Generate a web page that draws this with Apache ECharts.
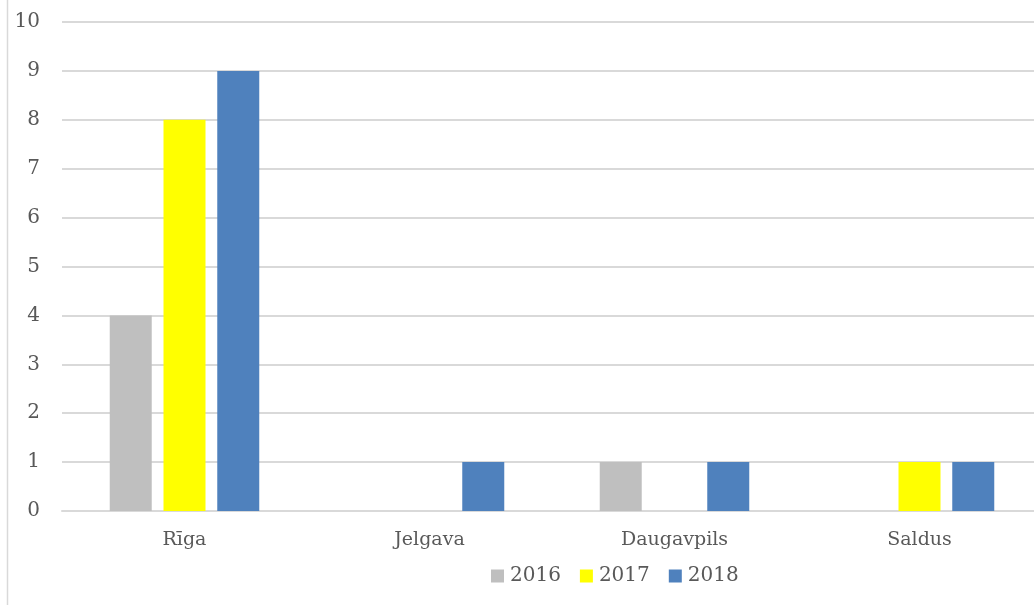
<!DOCTYPE html>
<html>
<head>
<meta charset="utf-8">
<script src="https://cdn.jsdelivr.net/npm/echarts@6/dist/echarts.min.js"></script>
<style>
html, body { margin: 0; padding: 0; background: #fff; }
#main { width: 1034px; height: 605px; }
</style>
</head>
<body>
<div id="main"></div>
<script>
var cities = ['Rīga', 'Jelgava', 'Daugavpils', 'Saldus'];
var years = ['2016', '2017', '2018'];
var v2016 = [4, 0, 1, 0];
var v2017 = [8, 0, 0, 1];
var v2018 = [9, 1, 1, 1];
var colors = ['#bfbfbf', '#ffff00', '#4f81bd'];

var font = '"DejaVu Serif", serif';

function getSerial(_data) {
	var _s = [];
	for(var m = 0; m < _data.length; m++) {
		_s.push({
			name: years[m],
			type: 'bar',
			data: _data[m],
			barWidth: 42,
			barGap: '28%',
			itemStyle: { color: colors[m] }
		});
	}
	return _s;
}

var chart = echarts.init(document.getElementById('main'));
chart.setOption({
	animation: false,
	textStyle: { fontFamily: font },
	color: colors,
	grid: { left: 62, width: 980, top: 22, height: 489, outerBoundsMode: 'none', containLabel: false },
	legend: {
		data: years,
		left: 486,
		top: 561,
		itemWidth: 13,
		itemHeight: 13,
		itemGap: 19,
		icon: 'rect',
		textStyle: { fontFamily: font, fontSize: 20, color: '#595959', padding: [0, 0, 0, 1] }
	},
	xAxis: [{
		type: 'category',
		data: cities,
		axisLine: { lineStyle: { color: '#d9d9d9', width: 2 } },
		axisTick: { show: false },
		axisLabel: { fontFamily: font, fontSize: 19, color: '#595959', margin: 20 }
	}],
	yAxis: [{
		type: 'value',
		min: 0,
		max: 10,
		interval: 1,
		axisLine: { show: false },
		axisTick: { show: false },
		splitLine: { lineStyle: { color: '#d9d9d9', width: 2 } },
		axisLabel: { fontFamily: font, fontSize: 20, color: '#595959', margin: 22 }
	}],
	graphic: [{
		type: 'line',
		shape: { x1: 7.5, y1: 0, x2: 7.5, y2: 605 },
		style: { stroke: '#d9d9d9', lineWidth: 1.5 }
	}],
	series: getSerial([v2016, v2017, v2018])
});
</script>
</body>
</html>
